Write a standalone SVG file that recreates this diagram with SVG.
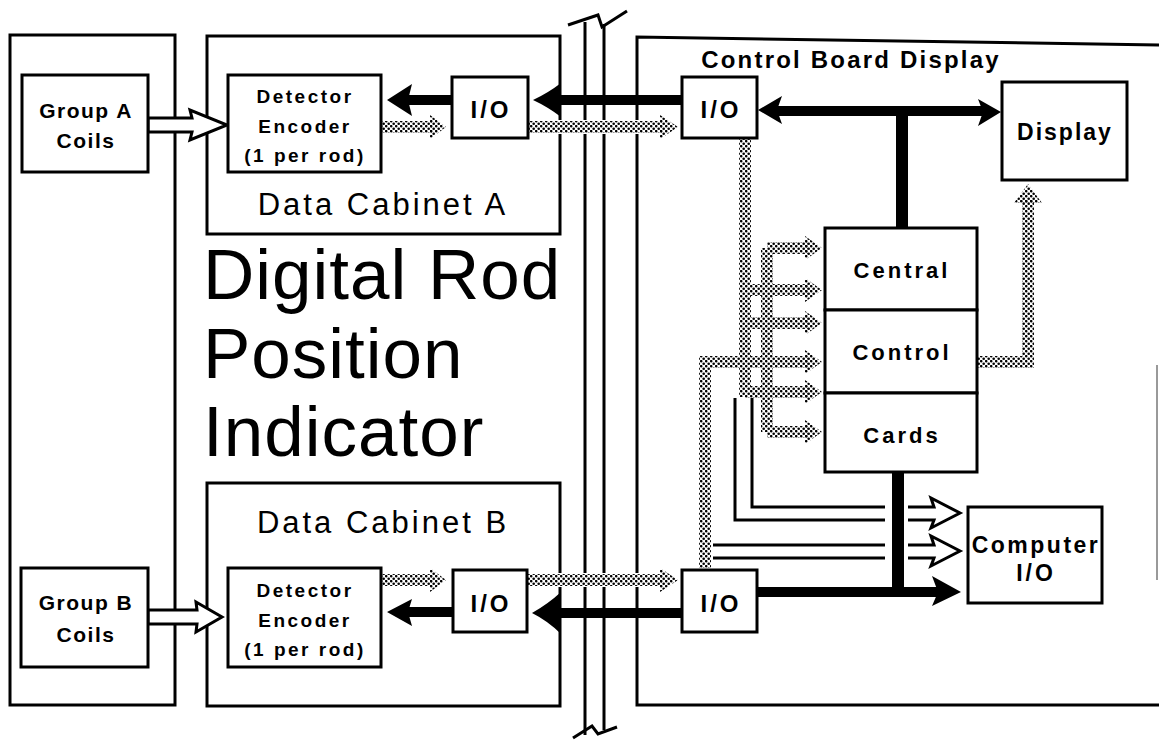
<svg xmlns="http://www.w3.org/2000/svg" width="1159" height="740" viewBox="0 0 1159 740">
<defs>
<pattern id="stip" width="5" height="5" patternUnits="userSpaceOnUse">
<circle cx="1.2" cy="1.2" r="1.3" fill="#000"/>
<circle cx="3.7" cy="3.7" r="1.3" fill="#000"/>
</pattern>
<style>
.frame{fill:none;stroke:#000;stroke-width:3}
.nb{fill:#fff;stroke:#000;stroke-width:3}
.t{font-family:"Liberation Sans",Arial,Helvetica,sans-serif;font-weight:bold;fill:#000;text-anchor:middle}
.big{font-family:"Liberation Sans",Arial,Helvetica,sans-serif;fill:#000}
.thick{fill:none;stroke:#000;stroke-width:10}
.bar{fill:none;stroke:#000;stroke-width:12}
.dot{fill:none;stroke:url(#stip);stroke-width:12}
.gap{fill:none;stroke:#fff;stroke-width:14}
.dh{fill:url(#stip)}
.thin{fill:none;stroke:#000;stroke-width:3}
.hollow{fill:#fff;stroke:#000;stroke-width:3;stroke-linejoin:miter}
.head{fill:#000}
</style>
</defs>
<rect width="1159" height="740" fill="#fff"/>

<!-- frames -->
<g id="frames">
<rect class="frame" x="10" y="35" width="165" height="670"/>
<rect class="frame" x="207" y="36" width="353" height="198"/>
<rect class="frame" x="207" y="483" width="353" height="223"/>
<path class="frame" d="M1159,45 L637,37 L637,705 L1159,705"/>
<path d="M1157,365 V580" stroke="#999" stroke-width="2" fill="none"/>
<text class="t" x="851" y="68" font-size="24" letter-spacing="2.2">Control Board Display</text>
</g>

<!-- break lines -->
<g id="break">
<path class="thin" d="M585,22 V735 M604,24 V730"/>
<path class="thin" d="M568,25 L598,15 L602,27 L627,11"/>
<path class="thin" d="M573,738 L592,726 L598,734 L617,727"/>
</g>

<g id="title">
<text class="big" x="203" y="299" font-size="71" letter-spacing="1">Digital Rod</text>
<text class="big" x="203" y="378" font-size="71" letter-spacing="1">Position</text>
<text class="big" x="203" y="456" font-size="71" letter-spacing="1">Indicator</text>
<text class="big" x="383" y="215" font-size="31" letter-spacing="3" text-anchor="middle">Data Cabinet A</text>
<text class="big" x="383" y="533" font-size="31" letter-spacing="3" text-anchor="middle">Data Cabinet B</text>
</g>

<!-- connectors -->
<g id="connectors">
<path class="gap" d="M528,127 H660 M527,580 H660"/>
<path class="dot" d="M381,127 H432 M528,127 H662 M381,580 H432 M527,580 H662"/>
<polygon class="dh" points="430,115 446,127 430,139"/>
<polygon class="dh" points="660,115 678,127 660,139"/>
<polygon class="dh" points="430,568 446,580 430,592"/>
<polygon class="dh" points="660,568 678,580 660,592"/>
<path class="dot" d="M745,138 V397 M767,248 V432 M767,248 H808 M745,290 H808 M745,323 H808 M705,568 V362 H808 M745,392 H808 M767,432 H808"/>
<polygon class="dh" points="805,236 822,248 805,260"/>
<polygon class="dh" points="805,278 822,290 805,302"/>
<polygon class="dh" points="805,311 822,323 805,335"/>
<polygon class="dh" points="805,350 822,362 805,374"/>
<polygon class="dh" points="805,380 822,392 805,404"/>
<polygon class="dh" points="805,420 822,432 805,444"/>
<path class="dot" d="M977,362 H1028 V200"/>
<polygon class="dh" points="1014,203 1028,184 1042,203"/>

<path class="thick" d="M682,100 H552"/>
<path class="head" d="M533,100 Q548,93 561,83 L561,117 Q548,107 533,100 Z"/>
<path class="thick" d="M452,100 H405"/>
<path class="head" d="M387,100 L412,84 L408,100 L412,116 Z"/>
<path class="thick" d="M682,613 H552"/>
<path class="head" d="M532,613 Q548,604 561,592 L561,634 Q548,621 532,613 Z"/>
<path class="thick" d="M453,612 H405"/>
<path class="head" d="M387,612 L412,599 L408,612 L412,626 Z"/>
<path class="thick" d="M775,111 H985"/>
<path class="head" d="M758,110 L782,96 L777,110 L782,124 Z"/>
<path class="head" d="M1001,112 L978,99 L983,112 L978,126 Z"/>
<path class="bar" d="M902,106 V228"/>
<path class="bar" d="M898,472 V597"/>
<path class="thick" d="M757,592 H940"/>
<path class="head" d="M961,592 L932,576 L938,592 L932,606 Z"/>

<path class="thin" d="M752,398 V507 H885 M735,398 V520 H885 M713,545 H885 M713,558 H885"/>
<path class="hollow" d="M908,507 H934 L931,498 L960,513 L931,528 L934,520 H908"/>
<path class="hollow" d="M908,545 H934 L931,536 L960,551 L931,566 L934,558 H908"/>

<polygon class="hollow" points="148,118 192,118 190,110 227,125 190,140 192,132 148,132"/>
<polygon class="hollow" points="148,610 197,610 196,602 222,617 196,632 197,624 148,624"/>
</g>

<!-- nodes -->
<g id="groupA">
<rect class="nb" x="22" y="75" width="126" height="97"/>
<text class="t" x="86" y="118" font-size="21" letter-spacing="1.5">Group A</text>
<text class="t" x="86" y="148" font-size="21" letter-spacing="1.5">Coils</text>
</g>
<g id="groupB">
<rect class="nb" x="21" y="568" width="127" height="99"/>
<text class="t" x="86" y="610" font-size="21" letter-spacing="1.5">Group B</text>
<text class="t" x="86" y="642" font-size="21" letter-spacing="1.5">Coils</text>
</g>
<g id="encoderA">
<rect class="nb" x="228" y="75" width="153" height="97"/>
<text class="t" x="305" y="103" font-size="19" letter-spacing="2.5">Detector</text>
<text class="t" x="305" y="133" font-size="19" letter-spacing="2.5">Encoder</text>
<text class="t" x="305" y="162" font-size="19" letter-spacing="2.5">(1 per rod)</text>
</g>
<g id="encoderB">
<rect class="nb" x="228" y="568" width="153" height="99"/>
<text class="t" x="305" y="597" font-size="19" letter-spacing="2.5">Detector</text>
<text class="t" x="305" y="627" font-size="19" letter-spacing="2.5">Encoder</text>
<text class="t" x="305" y="656" font-size="19" letter-spacing="2.5">(1 per rod)</text>
</g>
<g id="ioA">
<rect class="nb" x="452" y="77" width="76" height="61"/>
<text class="t" x="491" y="118" font-size="24" letter-spacing="3">I/O</text>
</g>
<g id="ioB">
<rect class="nb" x="453" y="570" width="74" height="62"/>
<text class="t" x="491" y="612" font-size="24" letter-spacing="3">I/O</text>
</g>
<g id="cbioA">
<rect class="nb" x="682" y="77" width="75" height="61"/>
<text class="t" x="721" y="118" font-size="24" letter-spacing="3">I/O</text>
</g>
<g id="cbioB">
<rect class="nb" x="682" y="570" width="75" height="62"/>
<text class="t" x="721" y="612" font-size="24" letter-spacing="3">I/O</text>
</g>
<g id="display">
<rect class="nb" x="1002" y="82" width="125" height="98"/>
<text class="t" x="1065" y="140" font-size="23" letter-spacing="2">Display</text>
</g>
<g id="central">
<rect class="nb" x="825" y="228" width="152" height="82"/>
<text class="t" x="902" y="278" font-size="22" letter-spacing="3">Central</text>
</g>
<g id="control">
<rect class="nb" x="825" y="310" width="152" height="83"/>
<text class="t" x="902" y="360" font-size="22" letter-spacing="3">Control</text>
</g>
<g id="cards">
<rect class="nb" x="825" y="393" width="152" height="79"/>
<text class="t" x="902" y="443" font-size="22" letter-spacing="3">Cards</text>
</g>
<g id="computer">
<rect class="nb" x="968" y="507" width="134" height="96"/>
<text class="t" x="1036" y="553" font-size="23" letter-spacing="2.5">Computer</text>
<text class="t" x="1036" y="581" font-size="23" letter-spacing="3">I/O</text>
</g>
</svg>
